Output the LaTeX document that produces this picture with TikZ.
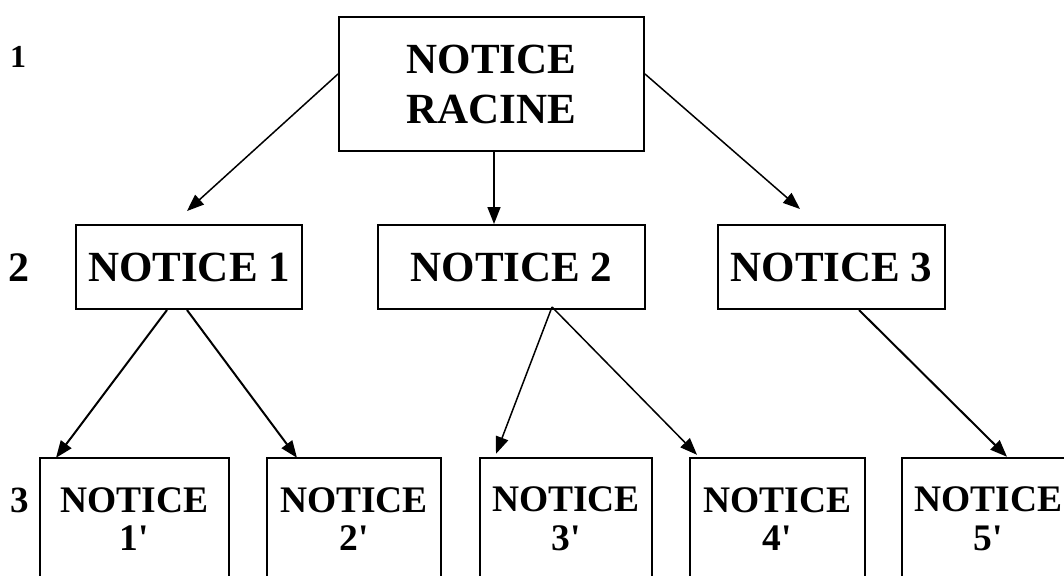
\documentclass[tikz,border=0pt]{standalone}
\usepackage{fontspec}
\setmainfont{Liberation Serif}[Ligatures=TeXOff]
\usetikzlibrary{arrows.meta,calc}
\tikzset{
  box/.style={draw=black, line width=2pt, rectangle, inner sep=0pt, align=center,
    font=\fontsize{43}{50}\selectfont\bfseries},
  openbox/.style={rectangle, inner sep=0pt, align=center,
    font=\fontsize{37.5}{38.5}\selectfont\bfseries},
  obline/.style={draw=black, line width=2pt},
  arr/.style={draw=black, line width=1.5pt, -{Triangle[length=17pt,width=13pt]}},
  arrb/.style={arr, line width=2pt},
  lvl/.style={inner sep=0pt, font=\bfseries}
}
\begin{document}
\begin{tikzpicture}[x=1pt,y=-1pt]
\useasboundingbox (0,0) rectangle (1064,575);
\clip (0,0) rectangle (1064,575);
% level labels
\node[lvl, font=\fontsize{32}{34}\selectfont\bfseries] (l1) at (18,57) {1};
\node[lvl, font=\fontsize{42}{44}\selectfont\bfseries] (l2) at (19,268) {2};
\node[lvl, font=\fontsize{37}{40}\selectfont\bfseries] (l3) at (20,500) {3};
% level 1
\node[box, minimum width=305pt, minimum height=134pt] (root) at (491.5,84) {NOTICE\\RACINE};
% level 2
\node[box, minimum width=226pt, minimum height=84pt] (n1) at (189,267) {NOTICE 1};
\node[box, minimum width=267pt, minimum height=84pt] (n2) at (511.5,267) {NOTICE 2};
\node[box, minimum width=227pt, minimum height=84pt] (n3) at (831.5,267) {NOTICE 3};
% level 3 (open boxes)
\node[openbox, minimum width=189pt, minimum height=122pt] (b1) at (134.5,519) {NOTICE\\1'};
\node[openbox, minimum width=174pt, minimum height=122pt] (b2) at (354,519) {NOTICE\\2'};
\node[openbox, minimum width=172pt, minimum height=122pt] (b3) at (566,519) {NOTICE\\3'};
\node[openbox, minimum width=175pt, minimum height=122pt] (b4) at (777.5,519) {NOTICE\\4'};
\node[openbox, minimum width=173pt, minimum height=122pt] (b5) at (988.5,519) {NOTICE\\5'};
\foreach \b in {b1,b2,b3,b4,b5}{
  \draw[obline] ($(\b.south west)+(0,10)$) |- (\b.north east) -- ($(\b.south east)+(0,10)$);
}
% arrow end points
\coordinate (e1) at (187,211);
\coordinate (e3) at (800,209);
% connectors
\draw[arr] ([yshift=10pt]root.west) -- (e1);
\draw[arr] ([xshift=2.5pt]root.south) -- ([xshift=-17.5pt]n2.north);
\draw[arr] ([yshift=10pt]root.east) -- (e3);
\draw[arrb] ([xshift=-22pt]n1.south) -- ([xshift=-78.5pt]b1.north);
\draw[arrb] ([xshift=-2pt]n1.south) -- ([xshift=-57pt]b2.north);
\draw[arr] ([xshift=40.5pt,yshift=3pt]n2.south) -- ([xshift=-70pt,yshift=4pt]b3.north);
\draw[arr] ([xshift=40.5pt,yshift=3pt]n2.south) -- ([xshift=-80.5pt,yshift=3pt]b4.north);
\draw[arrb] ([xshift=27.5pt]n3.south) -- ([xshift=18.5pt,yshift=1pt]b5.north);
\end{tikzpicture}
\end{document}
